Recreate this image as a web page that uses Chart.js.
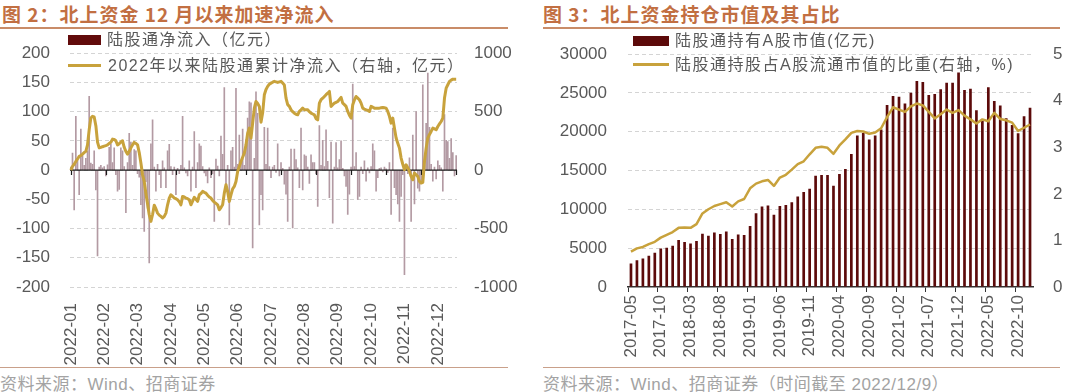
<!DOCTYPE html>
<html><head><meta charset="utf-8">
<script src="https://cdn.jsdelivr.net/npm/chart.js@4.4.0/dist/chart.umd.min.js"></script>
<style>
body{margin:0;width:1068px;height:392px;background:#fff;position:relative;overflow:hidden;font-family:"Liberation Sans","Noto Sans CJK SC",sans-serif;}
.abs{position:absolute;}
.title{font-family:"Noto Sans CJK SC",sans-serif;font-weight:700;font-size:19px;color:#c26f42;letter-spacing:1px;white-space:nowrap;top:0px;}
.rule{height:2px;background:#c98c68;top:27px;}
.foot{height:1px;background:#c9a08a;top:367px;}
.src{font-family:"Liberation Sans","Noto Sans CJK SC",sans-serif;font-size:17px;letter-spacing:0.5px;color:#a3a3a3;top:370px;white-space:nowrap;}
.lg{font-size:16px;color:#595959;white-space:nowrap;letter-spacing:1.5px;font-family:"Liberation Sans","Noto Sans CJK SC",sans-serif;line-height:20px;}
canvas{position:absolute;}
</style></head>
<body>
<div class="abs title" style="left:2px;">图 2：北上资金 12 月以来加速净流入</div>
<div class="abs rule" style="left:0;width:508px;"></div>
<div class="abs title" style="left:543px;">图 3：北上资金持仓市值及其占比</div>
<div class="abs rule" style="left:543px;width:517px;"></div>

<canvas id="c1" width="534" height="343" style="left:0;top:23px;"></canvas>
<canvas id="c2" width="528" height="343" style="left:540px;top:23px;"></canvas>

<div class="abs" style="left:68px;top:35px;width:33px;height:10px;background:#620b0b;"></div>
<div class="abs lg" style="left:107px;top:30px;">陆股通净流入（亿元）</div>
<div class="abs" style="left:68px;top:64px;width:33px;height:3px;background:#c8a23c;"></div>
<div class="abs lg" style="left:108px;top:56px;">2022年以来陆股通累计净流入（右轴，亿元）</div>

<div class="abs" style="left:633px;top:36px;width:36px;height:10px;background:#5c0a0a;"></div>
<div class="abs lg" style="left:675px;top:31px;">陆股通持有A股市值(亿元)</div>
<div class="abs" style="left:633px;top:63px;width:36px;height:3px;background:#c8a23c;"></div>
<div class="abs lg" style="left:675px;top:55px;">陆股通持股占A股流通市值的比重(右轴，%)</div>

<div class="abs foot" style="left:0;width:508px;"></div>
<div class="abs src" style="left:0;">资料来源：Wind、招商证券</div>
<div class="abs foot" style="left:543px;width:517px;"></div>
<div class="abs src" style="left:543px;">资料来源：Wind、招商证券（时间截至 2022/12/9）</div>

<script>
// ---------- Figure 2 data ----------
const flowTickLabels = ['2022-01','2022-02','2022-03','2022-04','2022-05','2022-06','2022-07','2022-08','2022-09','2022-10','2022-11','2022-12'];
const flowNet = [
5,29,-68,92,20,-42,70,25,8,20,
33,126,12,10,33,-34,-147,5,8,4,
6,-10,9,39,45,13,38,-8,-36,-33,
38,33,6,-73,13,63,48,8,35,33,
-6,-12,-59,-82,-105,-20,-65,-159,45,86,
5,-36,10,-8,-30,16,4,-30,33,44,
6,-8,5,-42,3,-6,8,92,4,-5,
-10,16,-36,5,66,-30,13,45,41,6,
-5,-10,-22,4,-13,-6,-88,19,7,-10,
58,27,141,-36,8,-94,33,39,5,140,
10,60,12,70,8,52,89,117,115,-133,
20,134,97,-94,-42,-68,73,10,72,6,
-13,5,8,-4,45,-10,13,3,-24,-41,
-88,5,36,-99,36,18,4,-30,72,-34,
26,24,5,-23,26,13,13,-6,-62,76,
8,51,6,69,15,-47,48,-91,5,47,
4,18,50,3,-10,-28,-76,-41,5,147,
6,30,-50,-45,5,-6,16,-19,4,-5,
6,45,33,-36,-13,3,4,-3,5,2,
-4,13,-76,72,-30,-42,-58,-88,-45,-8,
-179,10,-6,21,-88,60,-58,100,-31,-36,
-20,146,8,80,166,73,10,-19,5,-15,
16,8,4,-36,95,51,49,20,54,30,
-10,25];
const flowCum = [
0,32,50,74,95,117,125,137,150,160,
216,345,445,460,455,380,240,190,194,200,
205,210,216,228,239,265,262,251,215,225,
240,251,195,160,137,160,190,216,237,228,
216,150,60,-40,-97,-200,-290,-382,-439,-380,
-300,-330,-368,-385,-396,-410,-396,-368,-297,-240,
-211,-225,-239,-245,-254,-270,-297,-225,-230,-239,
-245,-254,-297,-265,-233,-250,-268,-211,-200,-182,
-190,-197,-215,-230,-239,-260,-274,-285,-297,-339,
-320,-297,-197,-125,-182,-268,-211,-160,-140,-97,
-11,30,74,110,145,216,316,359,274,402,
530,587,570,545,410,490,644,690,716,735,
744,752,759,755,750,755,759,745,729,616,
560,545,516,500,487,478,473,502,515,530,
516,516,516,500,487,480,473,440,430,573,
602,615,630,645,658,673,545,560,573,580,
587,605,622,573,560,545,502,470,445,559,
600,630,616,602,573,530,522,516,510,502,
545,538,530,530,530,530,533,536,533,530,
502,460,402,445,359,274,230,188,103,50,
3,45,20,-11,-54,-83,-26,-40,-54,-97,
-111,-105,74,188,274,305,331,359,352,345,
373,395,416,445,616,701,730,759,770,778,
778,778];
const flowDays = flowNet.map((_, i) => i);

// ---------- Figure 3 data ----------
const holdMonths = [
'2017-05','2017-06','2017-07','2017-08','2017-09','2017-10','2017-11','2017-12',
'2018-01','2018-02','2018-03','2018-04','2018-05','2018-06','2018-07','2018-08','2018-09','2018-10','2018-11','2018-12',
'2019-01','2019-02','2019-03','2019-04','2019-05','2019-06','2019-07','2019-08','2019-09','2019-10','2019-11','2019-12',
'2020-01','2020-02','2020-03','2020-04','2020-05','2020-06','2020-07','2020-08','2020-09','2020-10','2020-11','2020-12',
'2021-01','2021-02','2021-03','2021-04','2021-05','2021-06','2021-07','2021-08','2021-09','2021-10','2021-11','2021-12',
'2022-01','2022-02','2022-03','2022-04','2022-05','2022-06','2022-07','2022-08','2022-09','2022-10','2022-11','2022-12'];
const holdValue = [
3022,3453,3669,4014,4403,4964,5050,5309,6043,5784,
5611,5914,6863,6604,7036,6820,7165,6172,6777,6691,
7856,9496,10360,10489,9324,10446,10576,10921,11655,12250,
12647,14331,14417,14417,13036,14547,15194,17137,19511,19856,
18993,19511,20288,23439,24604,24518,23655,25036,26547,26417,
24734,24863,25468,26331,26331,27626,25381,25554,22791,21410,
25727,23957,23396,21755,20892,19800,22014,23094];
const holdRatio = [
0.76,0.83,0.86,0.92,0.97,1.06,1.12,1.18,1.27,1.28,
1.27,1.35,1.58,1.67,1.74,1.78,1.82,1.73,1.84,1.89,
2.12,2.22,2.27,2.30,2.17,2.35,2.41,2.52,2.64,2.70,
2.85,2.99,3.01,2.99,2.86,3.04,3.17,3.31,3.35,3.34,
3.29,3.32,3.41,3.65,3.86,3.81,3.76,3.88,3.94,3.90,
3.76,3.62,3.71,3.81,3.74,3.80,3.68,3.60,3.51,3.60,
3.56,3.74,3.61,3.58,3.53,3.35,3.42,3.49];

const GOLD = '#c8a23c';
const TXT = '#595959';
const FONT = {size:17, family:'"Liberation Sans", Arial, sans-serif'};
const plain = (v) => String(v);

const zeroLinePlugin = {
  id:'zeroLine',
  afterDatasetDraw(chart, args){
    if (args.index !== 0) return;
    const {ctx, chartArea, scales} = chart;
    const y0 = scales.y.getPixelForValue(0);
    ctx.save();
    ctx.strokeStyle = '#1a1a1a';
    ctx.lineWidth = 1.2;
    ctx.beginPath();
    ctx.moveTo(chartArea.left, y0); ctx.lineTo(chartArea.right, y0);
    for (let i = 0; i < flowNet.length; i += 21){
      const x = Math.round(scales.x.getPixelForValue(i)) + 0.5;
      ctx.moveTo(x, y0); ctx.lineTo(x, y0 + 5);
    }
    ctx.stroke();
    ctx.restore();
  }
};

new Chart(document.getElementById('c1'), {
  type:'bar',
  data:{
    labels: flowDays,
    datasets:[
      {type:'bar', data: flowNet, yAxisID:'y', backgroundColor:'#b39aa3', barThickness:1, order:2},
      {type:'line', data: flowCum, yAxisID:'y1', borderColor:GOLD, borderWidth:3, pointRadius:0, tension:0, borderJoinStyle:'round', order:1}
    ]
  },
  options:{
    responsive:false, animation:false,
    layout:{padding:{top:16,left:0,right:0,bottom:0}},
    plugins:{legend:{display:false}, tooltip:{enabled:false}},
    scales:{
      x:{
        grid:{display:false}, border:{display:false},
        ticks:{autoSkip:false, minRotation:90, maxRotation:90, padding:8, color:TXT, font:FONT,
          callback:(v,i)=> i % 20 === 0 ? flowTickLabels[i/20] : ''},
        afterFit(s){ s.height = 79; }
      },
      y:{
        min:-200, max:200,
        ticks:{stepSize:50, color:TXT, font:FONT, padding:20, callback:plain},
        grid:{color:'#d4d4d4', drawTicks:false, lineWidth:1},
        border:{display:false, dash:[4,3]},
        afterFit(s){ s.width = 70; }
      },
      y1:{
        position:'right', min:-1000, max:1000,
        ticks:{stepSize:500, color:TXT, font:FONT, padding:9, callback:plain},
        grid:{display:false}, border:{display:false},
        afterFit(s){ s.width = 77; }
      }
    }
  },
  plugins:[zeroLinePlugin]
});

new Chart(document.getElementById('c2'), {
  type:'bar',
  data:{
    labels: holdMonths,
    datasets:[
      {type:'bar', data: holdValue, yAxisID:'y', backgroundColor:'#5c0a0a', barPercentage:0.45, categoryPercentage:1, order:2},
      {type:'line', data: holdRatio, yAxisID:'y1', borderColor:GOLD, borderWidth:2.5, pointRadius:0, tension:0, borderJoinStyle:'round', order:1}
    ]
  },
  options:{
    responsive:false, animation:false,
    layout:{padding:{top:18,left:0,right:0,bottom:0}},
    plugins:{legend:{display:false}, tooltip:{enabled:false}},
    scales:{
      x:{
        grid:{display:true, drawOnChartArea:false, drawTicks:true, tickLength:5,
          color:(c)=> (c.index % 5 === 0) ? '#333333' : 'rgba(0,0,0,0)'},
        border:{display:true, color:'#333333', width:1.5},
        ticks:{autoSkip:false, minRotation:90, maxRotation:90, padding:3, color:TXT, font:FONT,
          callback:(v,i)=> i % 5 === 0 ? holdMonths[i] : ''},
        afterFit(s){ s.height = 79; }
      },
      y:{
        min:0, max:30000,
        ticks:{stepSize:5000, color:TXT, font:FONT, padding:21, callback:plain},
        grid:{color:(c)=> c.tick.value === 0 ? 'rgba(0,0,0,0)' : '#d4d4d4', drawTicks:false},
        border:{display:false, dash:[4,3]},
        afterFit(s){ s.width = 88; }
      },
      y1:{
        position:'right', min:0, max:5,
        ticks:{stepSize:1, color:TXT, font:FONT, padding:12, callback:plain},
        grid:{display:false}, border:{display:false},
        afterFit(s){ s.width = 35; }
      }
    }
  }
});
</script>
</body></html>
